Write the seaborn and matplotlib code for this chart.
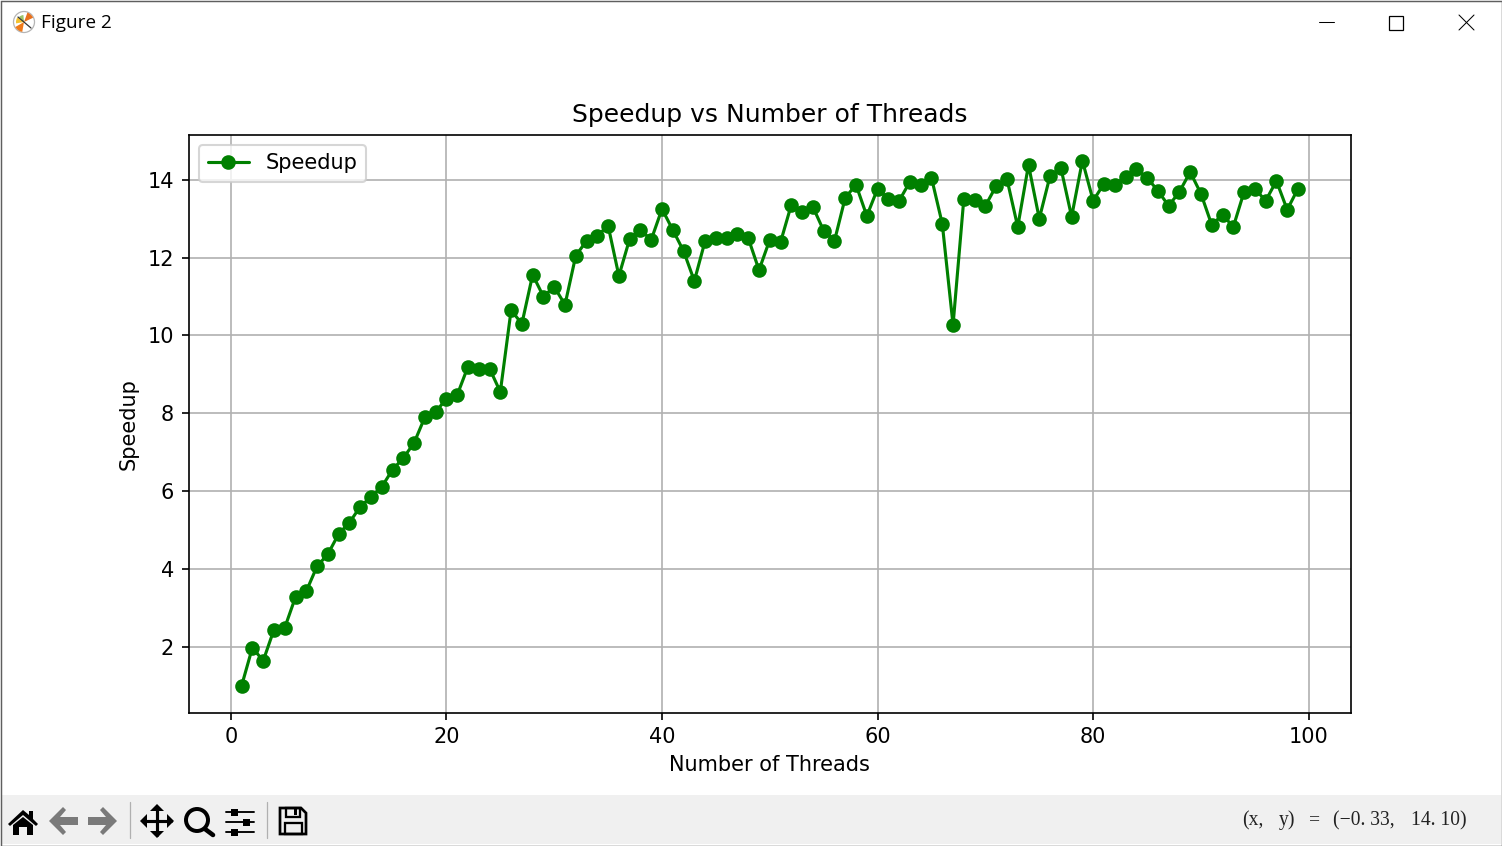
import matplotlib
matplotlib.use('Agg')
import matplotlib.pyplot as plt
from matplotlib.patches import Rectangle, Circle, Polygon, Wedge
import pandas as pd
import seaborn as sns

W, H = 1502, 846
DPI = 150

threads = list(range(1, 100))
speedup = [
    1.00, 1.98, 1.64, 2.44, 2.49, 3.28, 3.43, 4.07, 4.38, 4.90,
    5.19, 5.60, 5.85, 6.11, 6.55, 6.85, 7.24, 7.90, 8.04, 8.37,
    8.47, 9.20, 9.15, 9.15, 8.55, 10.65, 10.30, 11.56, 11.00, 11.25,
    10.79, 12.05, 12.43, 12.56, 12.82, 11.53, 12.48, 12.71, 12.46, 13.25,
    12.71, 12.17, 11.40, 12.43, 12.50, 12.50, 12.61, 12.50, 11.68, 12.46,
    12.40, 13.36, 13.18, 13.30, 12.69, 12.43, 13.54, 13.87, 13.07, 13.77,
    13.51, 13.46, 13.95, 13.87, 14.05, 12.87, 10.27, 13.51, 13.48, 13.33,
    13.84, 14.02, 12.79, 14.38, 13.00, 14.10, 14.31, 13.05, 14.49, 13.46,
    13.90, 13.87, 14.08, 14.28, 14.05, 13.72, 13.33, 13.69, 14.20, 13.64,
    12.84, 13.10, 12.79, 13.69, 13.77, 13.46, 13.97, 13.23, 13.77,
]
x_ticks = [0, 20, 40, 60, 80, 100]
y_ticks = [2, 4, 6, 8, 10, 12, 14]


def draw_chrome(fig):
    # window frame and toolbar, in pixel coordinates
    ax = fig.add_axes([0, 0, 1, 1], zorder=5)
    ax.set_xlim(0, W)
    ax.set_ylim(H, 0)
    ax.axis('off')
    ax.patch.set_alpha(0)

    ax.add_patch(Rectangle((1, 795), W - 2, 49, fc='#f0f0f0', ec='none'))
    ax.add_patch(Rectangle((0.5, 0.5), W - 1, H - 1, fc='none', ec='#5f5f5f', lw=0.7))

    # title bar
    ax.add_patch(Circle((24, 22), 10.5, fc='white', ec='#b5b5b5', lw=0.6))
    ax.add_patch(Wedge((24, 22), 10, 100, 150, fc='#f07a1a', ec='none'))
    ax.add_patch(Wedge((24, 22), 10, 290, 335, fc='#e8701c', ec='none'))
    ax.add_patch(Wedge((24, 22), 8, 170, 215, fc='#f2c230', ec='none'))
    ax.add_patch(Wedge((24, 22), 7, 225, 265, fc='#9cc46a', ec='none'))
    ax.plot([18, 31], [17, 28], color='#333333', lw=0.6)
    ax.text(41, 22.5, 'Figure 2', fontsize=9.1, family='Open Sans', va='center', ha='left', color='black')
    ax.plot([1319, 1334], [22, 22], color='black', lw=0.5)
    ax.add_patch(Rectangle((1388.5, 15.5), 14, 14, fc='none', ec='black', lw=0.6))
    ax.plot([1459, 1474], [15, 30], color='black', lw=0.5)
    ax.plot([1459, 1474], [30, 15], color='black', lw=0.5)

    # toolbar icons
    ax.add_patch(Polygon([(8, 824), (23, 810), (29, 815), (29, 811), (33, 811), (33, 819), (38, 824), (36, 826), (23, 815), (10, 826)], fc='black', ec='none'))
    ax.add_patch(Polygon([(13, 825), (23, 817), (33, 825), (33, 835), (27, 835), (27, 827), (19, 827), (19, 835), (13, 835)], fc='black', ec='none'))
    for pts in ([(49, 821), (63, 807), (66, 810), (60, 817), (78, 817), (78, 825), (60, 825), (66, 832), (63, 835)],
                [(117, 821), (103, 807), (100, 810), (106, 817), (88, 817), (88, 825), (106, 825), (100, 832), (103, 835)]):
        ax.add_patch(Polygon(pts, fc='#7a7a7a', ec='none'))
    ax.plot([129.5, 129.5], [802, 838], color='#b0b0b0', lw=0.6)
    ax.plot([143, 171], [821, 821], color='black', lw=1.5)
    ax.plot([157, 157], [807, 835], color='black', lw=1.5)
    for pts in ([(140, 821), (147, 814), (147, 828)], [(174, 821), (167, 814), (167, 828)],
                [(157, 804), (150, 811), (164, 811)], [(157, 838), (150, 831), (164, 831)]):
        ax.add_patch(Polygon(pts, fc='black', ec='none'))
    ax.add_patch(Circle((197, 820), 11, fc='none', ec='black', lw=1.9))
    ax.plot([205, 213], [829, 835], color='black', lw=2.2)
    for yy, kx in ((812, 234), (822, 246), (832, 234)):
        ax.plot([226, 254], [yy, yy], color='black', lw=0.9)
        ax.add_patch(Rectangle((kx - 3.5, yy - 3.5), 7, 7, fc='black', ec='none'))
    ax.plot([266.5, 266.5], [802, 838], color='#b0b0b0', lw=0.6)
    ax.add_patch(Polygon([(280, 808), (301, 808), (306, 813), (306, 834), (280, 834)], fc='none', ec='black', lw=1.3))
    ax.add_patch(Rectangle((286, 808), 14, 9, fc='none', ec='black', lw=1.1))
    ax.add_patch(Rectangle((294, 809), 3, 6, fc='black', ec='none'))
    ax.add_patch(Rectangle((285, 823), 17, 11, fc='none', ec='black', lw=1.1))

    # coordinate readout, wide spacing like the Qt label
    for px, part in ((1242, '(x,'), (1279, 'y)'), (1309, '='), (1333, '(\u22120. 33,'), (1411, '14. 10)')):
        ax.text(px, 820.5, part, fontsize=9.4, family='Liberation Serif', va='center', ha='left', color='#222222')


def main():
    sns.set_style('ticks')
    plt.rcParams['font.family'] = ['DejaVu Sans']
    plt.rcParams['axes.edgecolor'] = 'black'
    plt.rcParams['axes.labelcolor'] = 'black'
    plt.rcParams['xtick.color'] = 'black'
    plt.rcParams['ytick.color'] = 'black'
    plt.rcParams['text.color'] = 'black'

    df = pd.DataFrame({'threads': threads, 'speedup': speedup})

    fig = plt.figure(figsize=(W / DPI, H / DPI), dpi=DPI, facecolor='white')
    ax = fig.add_axes([188.8 / W, 1 - 712.6 / H, 1162 / W, 578 / H])

    sns.lineplot(data=df, x='threads', y='speedup', ax=ax, color='green', marker='o',
                 markersize=6, markeredgecolor='green', markeredgewidth=1,
                 linewidth=1.5, errorbar=None, label='Speedup')

    ax.set_title('Speedup vs Number of Threads', fontsize=12, pad=6)
    ax.set_xlabel('Number of Threads', fontsize=10, labelpad=3.6)
    ax.set_ylabel('Speedup', fontsize=10, labelpad=4.6)
    ax.set_xticks(x_ticks)
    ax.set_yticks(y_ticks)
    ax.set_xlim(-3.9, 103.9)
    ax.set_ylim(0.31, 15.16)
    ax.tick_params(labelsize=10, length=3.5, width=0.8, direction='out')
    ax.grid(True, color='#b0b0b0', linewidth=0.8)
    ax.set_axisbelow(True)
    for s in ax.spines.values():
        s.set_visible(True)
        s.set_linewidth(0.8)
    ax.legend(loc='upper left', fontsize=10, frameon=True, framealpha=0.8, edgecolor='0.8', fancybox=True)

    draw_chrome(fig)
    fig.savefig('out.png', dpi=DPI, facecolor='white')
    plt.close(fig)


if __name__ == '__main__':
    main()
